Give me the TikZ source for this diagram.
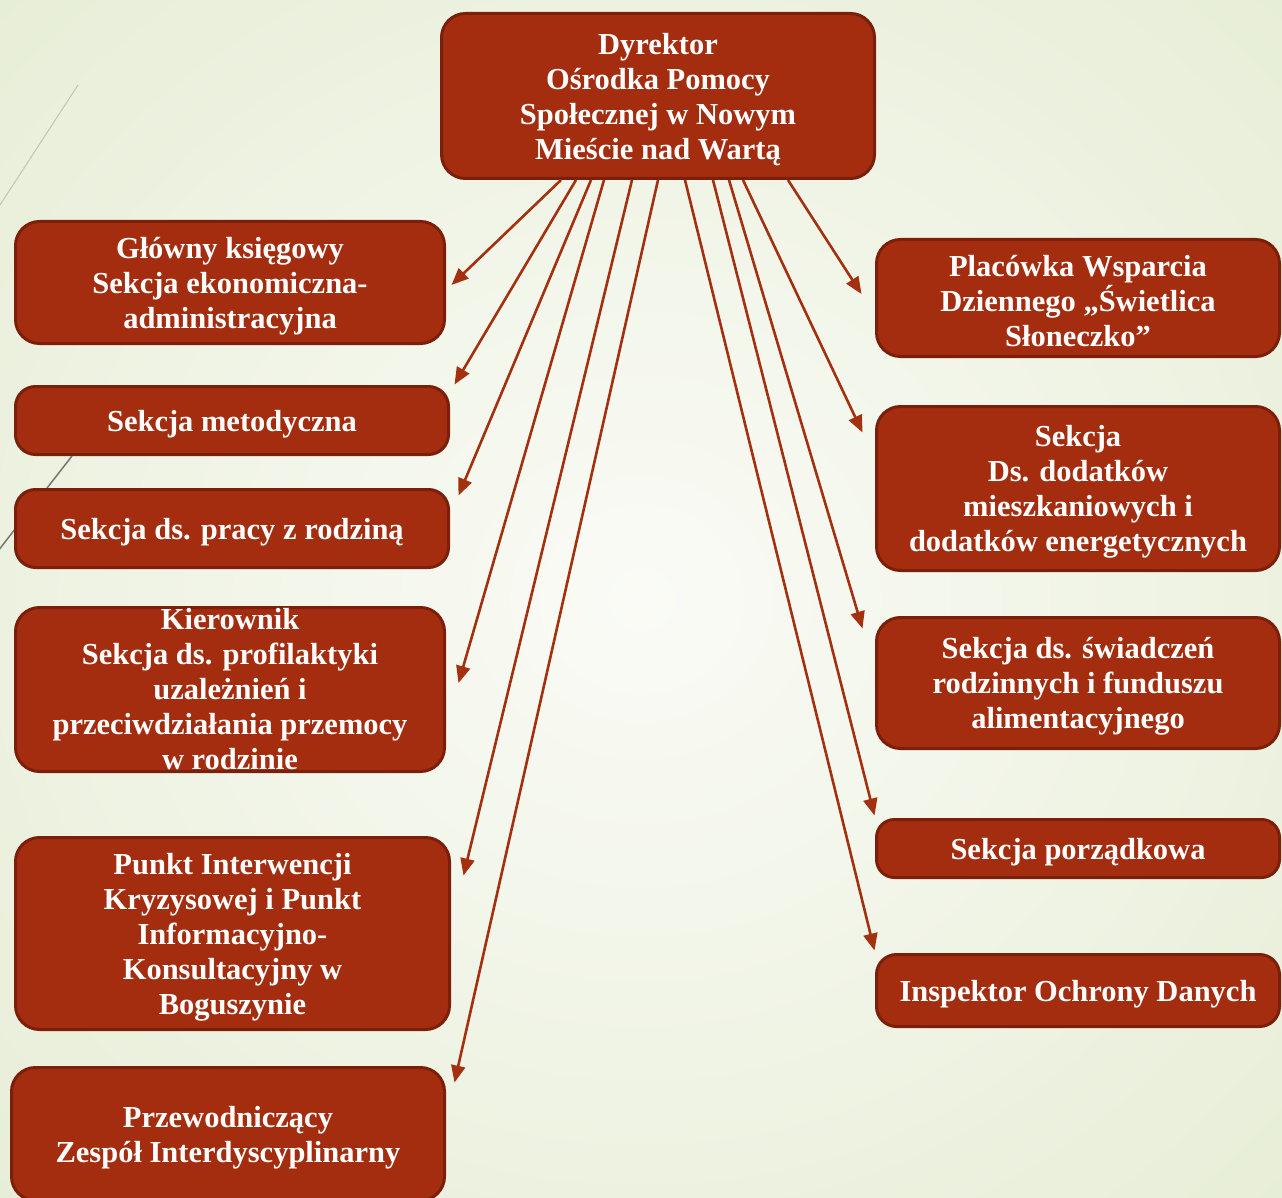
\documentclass[tikz,border=0pt]{standalone}
\usepackage{fontspec}
\setmainfont{Liberation Serif}
\usepackage{tikz}
\usetikzlibrary{arrows.meta}
\definecolor{boxfill}{HTML}{A42D0F}
\definecolor{boxline}{HTML}{7B1E0A}
\definecolor{linkred}{HTML}{A3300F}
\definecolor{bgin}{HTML}{FAFBF6}
\definecolor{bgout}{HTML}{E6EDD5}
\definecolor{deco}{HTML}{77776A}
\newcommand{\lift}{\rule{0pt}{28pt}}

\begin{document}
\begin{tikzpicture}[x=1pt, y=-1pt,
  unit/.style={draw=boxline, line width=3pt, fill=boxfill, rounded corners=24pt,
               inner sep=0pt, align=center, text=white,
               font=\fontsize{30.5}{35}\selectfont\bfseries},
  link/.style={-{Triangle[length=17pt,width=14pt]}, line width=2.6pt, draw=linkred}
]
  % Background
  \useasboundingbox (0,0) rectangle (1282,1198);
  \begin{scope}
    \clip (0,0) rectangle (1282,1198);
    \shade[inner color=bgin, outer color=bgout] (-320,-300) rectangle (1602,1498);
  \end{scope}
  \draw[deco!45, line width=1pt] (78,85) -- (-2,208);
  \draw[deco, line width=1.5pt] (72,456) -- (-2,551);

  % Director
  \node[unit, minimum width=433pt, minimum height=165pt] (dyr) at (658,96)
    {\lift Dyrektor\\Ośrodka Pomocy\\Społecznej w Nowym\\Mieście nad Wartą};

  % Left column
  \node[unit, minimum width=429pt, minimum height=122pt] (ksieg) at (230,282.5)
    {\lift Główny księgowy\\Sekcja ekonomiczna-\\administracyjna};
  \node[unit, minimum width=433pt, minimum height=68pt, rounded corners=20pt] (metod) at (232,420.5)
    {\lift Sekcja metodyczna};
  \node[unit, minimum width=433pt, minimum height=78pt, rounded corners=20pt] (rodz) at (232,528.5)
    {\lift Sekcja ds. pracy z rodziną};
  \node[unit, minimum width=429pt, minimum height=164pt] (profil) at (230,689.5)
    {Kierownik\\Sekcja ds. profilaktyki\\uzależnień i\\przeciwdziałania przemocy\\w rodzinie};
  \node[unit, minimum width=434pt, minimum height=192pt] (kryz) at (232.5,933.5)
    {\lift Punkt Interwencji\\Kryzysowej i Punkt\\Informacyjno-\\Konsultacyjny w\\Boguszynie};
  \node[unit, minimum width=433pt, minimum height=133pt] (zesp) at (228,1134)
    {\lift Przewodniczący\\Zespół Interdyscyplinarny};

  % Right column
  \node[unit, minimum width=403pt, minimum height=117pt] (swietl) at (1078,298)
    {\lift Placówka Wsparcia\\Dziennego „Świetlica\\Słoneczko”};
  \node[unit, minimum width=403pt, minimum height=164pt] (dodat) at (1078,488.5)
    {\lift Sekcja\\Ds. dodatków\\mieszkaniowych i\\dodatków energetycznych};
  \node[unit, minimum width=403pt, minimum height=131pt] (swiad) at (1078,683)
    {\lift Sekcja ds. świadczeń\\rodzinnych i funduszu\\alimentacyjnego};
  \node[unit, minimum width=403pt, minimum height=58pt, rounded corners=18pt] (porz) at (1078,848.5)
    {\lift Sekcja porządkowa};
  \node[unit, minimum width=403pt, minimum height=72pt, rounded corners=20pt] (iod) at (1078,990.5)
    {\lift Inspektor Ochrony Danych};

  % Links to the left column
  \draw[link] ([xshift=-97pt]dyr.south) -- ([xshift=5.5pt,yshift=-2.5pt]ksieg.east);
  \draw[link] ([xshift=-82pt]dyr.south) -- ([xshift=4.5pt,yshift=0.5pt]metod.north east);
  \draw[link] ([xshift=-67pt]dyr.south) -- ([xshift=8.5pt,yshift=-7.5pt]rodz.north east);
  \draw[link] ([xshift=-54pt]dyr.south) -- ([xshift=12.5pt,yshift=6.5pt]profil.east);
  \draw[link] ([xshift=-26pt]dyr.south) -- ([xshift=12.5pt,yshift=-39.5pt]kryz.north east);
  \draw[link] (dyr.south) -- ([xshift=8.5pt,yshift=-16.5pt]zesp.north east);

  % Links to the right column
  \draw[link] ([xshift=130pt]dyr.south) -- ([xshift=-13.5pt,yshift=4pt]swietl.west);
  \draw[link] ([xshift=85pt]dyr.south) -- ([xshift=-12.5pt,yshift=-27.5pt]dodat.north west);
  \draw[link] ([xshift=71pt]dyr.south) -- ([xshift=-12.5pt,yshift=-12.5pt]swiad.north west);
  \draw[link] ([xshift=55pt]dyr.south) -- ([xshift=-0.5pt,yshift=2.5pt]porz.north west);
  \draw[link] ([xshift=27pt]dyr.south) -- ([xshift=-0.5pt,yshift=2.5pt]iod.north west);
\end{tikzpicture}
\end{document}
